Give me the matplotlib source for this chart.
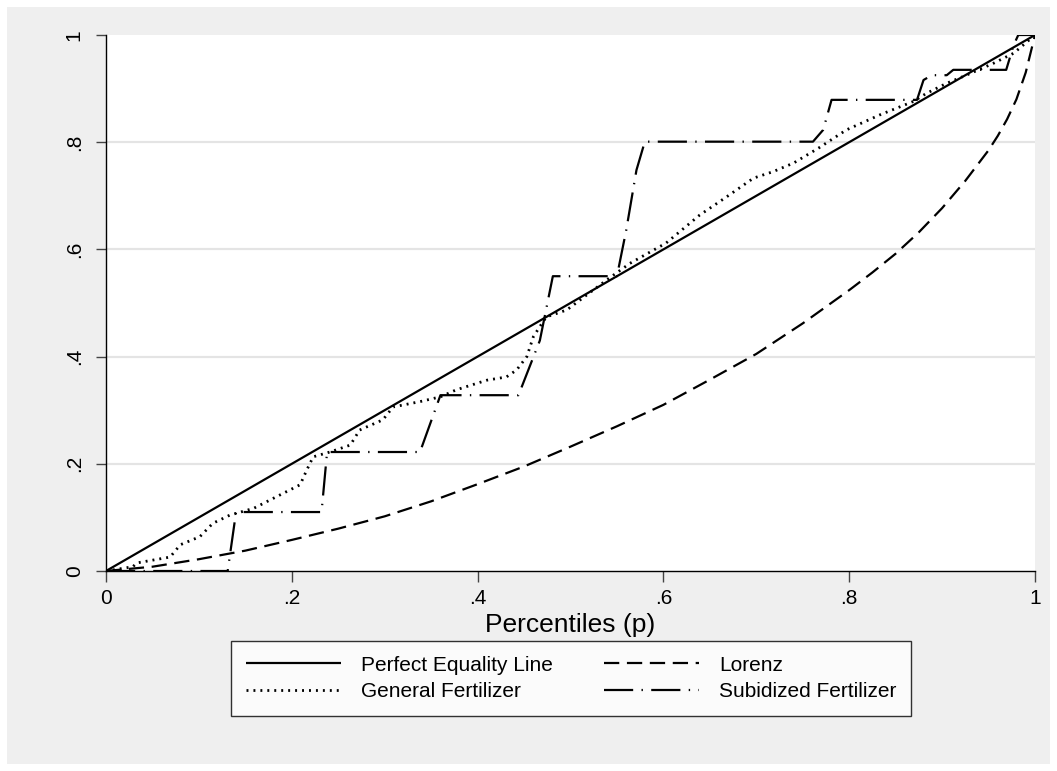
import matplotlib
matplotlib.use("Agg")
import matplotlib.pyplot as plt
from matplotlib.patches import Rectangle
import numpy as np

plt.rcParams['font.family'] = ['Liberation Sans', 'DejaVu Sans']
plt.rcParams['lines.scale_dashes'] = False

# Cumulative population share (p) and cumulative shares L(p)
lorenz_p = [0, .05, .10, .15, .20, .25, .30, .35, .40, .45, .50, .55, .60,
            .65, .70, .75, .80, .825, .85, .875, .90, .925, .95, .96, .97,
            .98, .99, 1.0]
lorenz_L = [0, .008, .022, .038, .058, .079, .102, .130, .162, .195, .232, .270,
            .310, .357, .405, .462, .524, .557, .592, .632, .677, .728, .785,
            .812, .843, .880, .930, 1.0]

general_p = [0, .029, .033, .069, .080, .101, .115, .133, .159, .184, .209, .216,
             .223, .241, .263, .273, .298, .309, .338, .360, .377, .410, .431,
             .442, .453, .460, .467, .474, .496, .539, .564, .603, .639, .668,
             .697, .718, .740, .767, .797, .833, .869, .883, .905, .926, .955,
             .977, 1.0]
general_L = [0, .008, .015, .026, .049, .064, .089, .104, .117, .139, .161, .188,
             .213, .222, .235, .263, .282, .306, .316, .325, .338, .356, .362,
             .375, .400, .437, .456, .474, .487, .543, .574, .612, .664, .698,
             .733, .745, .761, .789, .823, .851, .876, .891, .910, .925, .947,
             .966, 1.0]

subsid_p = [0, .131, .140, .232, .238, .338, .360, .444, .467, .481, .550, .560,
            .571, .580, .761, .772, .781, .873, .880, .889, .905, .912, .969,
            .977, .982, .991, 1.0]
subsid_L = [0, 0, .110, .110, .222, .222, .328, .328, .430, .550, .550, .636,
            .748, .801, .801, .823, .879, .879, .916, .925, .925, .935, .935,
            .981, 1.0, 1.0, 1.0]

equality_p = [0, 1]

xticks = [0, .2, .4, .6, .8, 1]
xtick_labels = ['0', '.2', '.4', '.6', '.8', '1']
yticks = [0, .2, .4, .6, .8, 1]
ytick_labels = ['0', '.2', '.4', '.6', '.8', '1']

W, H = 1057, 771
fig = plt.figure(figsize=(W / 100, H / 100), dpi=100)
fig.patch.set_facecolor('white')

# graph region
fig.add_artist(Rectangle((7 / W, 7 / H), (1050 - 7) / W, (764 - 7) / H,
                         transform=fig.transFigure, facecolor='#efefef',
                         edgecolor='none', zorder=-10))

x0, x1 = 106, 1035
y0, y1 = 35, 571
ax = fig.add_axes([x0 / W, 1 - y1 / H, (x1 - x0) / W, (y1 - y0) / H])
ax.set_zorder(1)
ax.set_facecolor('white')
ax.set_xlim(0, 1)
ax.set_ylim(0, 1)

lw = 1.6
h_eq, = ax.plot(equality_p, equality_p, color='black', lw=lw, solid_capstyle='butt',
                label='Perfect Equality Line', zorder=4)
h_lz, = ax.plot(lorenz_p, lorenz_L, color='black', lw=lw, linestyle=(0, (11, 5.5)),
                label='Lorenz', zorder=3)
h_gf, = ax.plot(general_p, general_L, color='black', lw=lw + 0.4,
                linestyle=(0, (1.4, 3.6)), label='General Fertilizer', zorder=3)
h_sf, = ax.plot(subsid_p, subsid_L, color='black', lw=lw,
                linestyle=(0, (21, 6, 1, 6)), label='Subidized Fertilizer', zorder=3)

for s in ['top', 'right']:
    ax.spines[s].set_visible(False)
for s in ['left', 'bottom']:
    ax.spines[s].set_color('black')
    ax.spines[s].set_linewidth(1.0)

ax.set_yticks(yticks)
ax.set_yticklabels(ytick_labels, rotation=90, va='center')
ax.set_xticks(xticks)
ax.set_xticklabels(xtick_labels)
ax.tick_params(axis='y', length=7, width=1, color='#444444', pad=9, labelsize=15)
ax.tick_params(axis='x', length=8, width=1, color='#444444', pad=5, labelsize=15)
for g in [.2, .4, .6, .8]:
    ax.axhline(g, color='#e4e4e4', lw=1.6, zorder=1)

ax.set_xlabel('Percentiles (p)', fontsize=19, labelpad=3.5)

# two rows: equality / Lorenz on top, fertilizer curves below
leg = ax.legend([h_eq, h_gf, h_lz, h_sf],
                [h.get_label() for h in (h_eq, h_gf, h_lz, h_sf)],
                loc='upper center', bbox_to_anchor=(571 / W, 1 - 641 / H),
                bbox_transform=fig.transFigure, ncol=2,
                frameon=True, fancybox=False, fontsize=15, handlelength=4.57,
                columnspacing=2.45, handletextpad=0.96, borderpad=0.7,
                labelspacing=0.37, borderaxespad=0)
leg.get_frame().set_edgecolor('black')
leg.get_frame().set_linewidth(1.0)
leg.get_frame().set_facecolor('white')

fig.savefig('out.png', dpi=100, facecolor=fig.get_facecolor())
